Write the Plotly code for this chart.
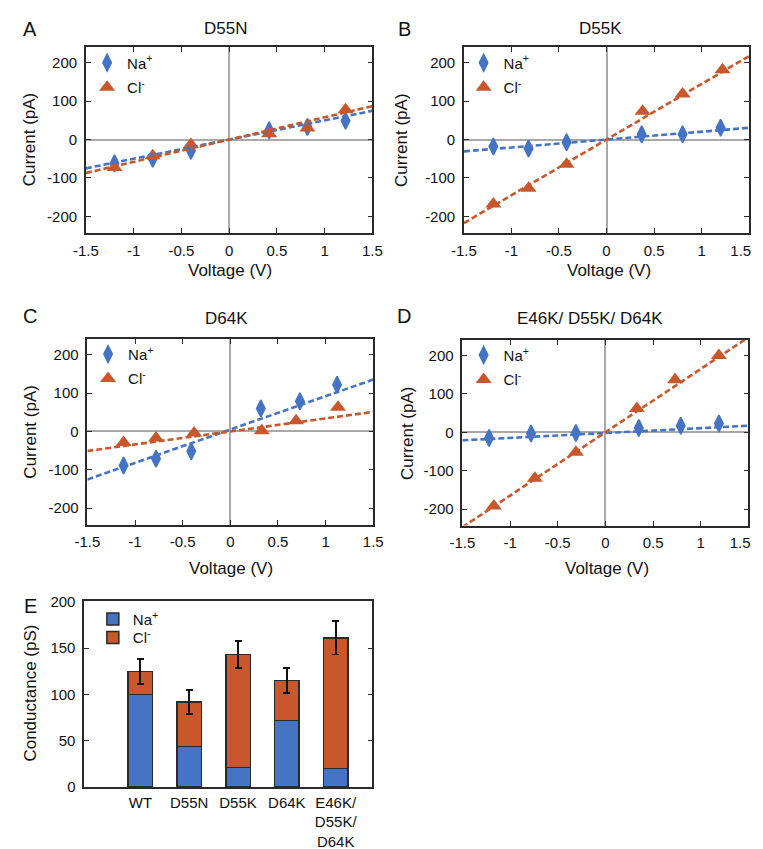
import plotly.graph_objects as go

# ---------------- data ----------------
panel_letters = ["A", "B", "C", "D"]
panel_titles = ["D55N", "D55K", "D64K", "E46K/ D55K/ D64K"]

na_voltage = [
    [-1.2, -0.8, -0.4, 0.42, 0.82, 1.22],
    [-1.19, -0.82, -0.42, 0.37, 0.80, 1.20],
    [-1.12, -0.78, -0.41, 0.32, 0.73, 1.12],
    [-1.22, -0.78, -0.31, 0.35, 0.79, 1.19],
]
na_current = [
    [-62, -50, -29, 24, 33, 49],
    [-18, -23, -7, 14, 14, 31],
    [-89, -71, -52, 60, 79, 122],
    [-15, -3, -2, 11, 17, 23],
]
cl_voltage = [
    [-1.2, -0.8, -0.4, 0.42, 0.82, 1.22],
    [-1.19, -0.82, -0.42, 0.38, 0.80, 1.22],
    [-1.12, -0.78, -0.38, 0.33, 0.69, 1.13],
    [-1.17, -0.74, -0.31, 0.33, 0.73, 1.19],
]
cl_current = [
    [-73, -42, -13, 15, 30, 78],
    [-168, -127, -64, 74, 119, 182],
    [-29, -17, -4, 2, 28, 63],
    [-192, -120, -52, 62, 137, 200],
]
# linear fits (slope pA/V, intercept pA)
na_fit_slope = [50, 20.5, 87, 12.7]
na_fit_intercept = [0, 0, 5, -2]
cl_fit_slope = [58, 145, 34, 165]
cl_fit_intercept = [0, 0, 0, 0]
fit_voltage_span = [-1.5, 1.5]

x_tick_vals = [-1.5, -1, -0.5, 0, 0.5, 1, 1.5]
x_tick_text_left = ["-1.5", "-1", "-0.5", "0", "0.5", "1", "1.5"]
x_tick_text_right = ["-1.5", "-1", "-0.5", "0", "0.5", "1", "1.5\u2007\u2007"]
y_tick_vals = [-200, -100, 0, 100, 200]
y_tick_text = ["-200", "-100", "0", "100", "200"]

bar_categories = ["WT", "D55N", "D55K", "D64K", "E46K/<br>D55K/<br>D64K"]
bar_na = [100, 44, 21, 72, 20]
bar_cl = [25, 48, 122, 43, 141]
bar_err = [13.5, 12.7, 14.5, 13.5, 18]

# ---------------- style ----------------
W, H = 763, 849
BLUE = "#4674C4"
ORANGE = "#C8582C"
FRAME = "#2a2a2a"
FONT = "Liberation Sans"


def px(x):
    return x / W


def py(y):
    return 1 - y / H


# plot areas in pixels: (left, right, top, bottom)
boxes = [
    (67.7, 366.7, 31.7, 221.0),
    (462.3, 760.0, 31.7, 221.0),
    (69.3, 367.7, 329.3, 518.3),
    (460.7, 759.3, 330.0, 519.3),
]
box_e = (66.0, 366.7, 596.0, 786.0)

letter_pos = [(9, 13), (400, 13), (9, 306), (400, 306)]
title_pos = [(213, 13), (605, 13), (214, 308), (594, 308)]
xtitle_pos = [(218, 259), (614, 259), (219, 563), (612, 563)]
ytitle_pos = [(9, 126), (397, 126), (9, 424), (404, 425)]
legend_pos = [(69, 31), (462, 31), (70, 328), (462, 329)]
tick_text_sets = [x_tick_text_left, x_tick_text_right, x_tick_text_left, x_tick_text_right]

fig = go.Figure()
annotations = []

for i in range(4):
    n = i + 1
    xa = "x" if n == 1 else f"x{n}"
    ya = "y" if n == 1 else f"y{n}"
    lg = "legend" if n == 1 else f"legend{n}"

    fig.add_trace(go.Scatter(
        x=na_voltage[i], y=na_current[i], mode="markers", name="Na<sup>+</sup>",
        marker=dict(symbol="diamond-tall", size=12, color=BLUE, line=dict(width=1.6, color=BLUE)),
        xaxis=xa, yaxis=ya, legend=lg, legendgroup=f"na{n}",
    ))
    fig.add_trace(go.Scatter(
        x=cl_voltage[i], y=cl_current[i], mode="markers", name="Cl<sup>-</sup>",
        marker=dict(symbol="triangle-up", size=14, color=ORANGE, line=dict(width=0)),
        xaxis=xa, yaxis=ya, legend=lg, legendgroup=f"cl{n}",
    ))
    fig.add_trace(go.Scatter(
        x=fit_voltage_span,
        y=[na_fit_slope[i] * v + na_fit_intercept[i] for v in fit_voltage_span],
        mode="lines", line=dict(color=BLUE, width=2.6, dash="6px,3px"),
        showlegend=False, xaxis=xa, yaxis=ya, hoverinfo="skip",
    ))
    fig.add_trace(go.Scatter(
        x=fit_voltage_span,
        y=[cl_fit_slope[i] * v + cl_fit_intercept[i] for v in fit_voltage_span],
        mode="lines", line=dict(color=ORANGE, width=2.6, dash="6px,3px"),
        showlegend=False, xaxis=xa, yaxis=ya, hoverinfo="skip",
    ))

    l, r, t, b = boxes[i]
    axis_common = dict(
        showline=True, mirror="ticks", linecolor=FRAME, linewidth=1.5,
        ticks="inside", ticklen=5, tickwidth=1.2, tickcolor=FRAME,
        showgrid=False, zeroline=True, zerolinecolor="#a8a8a8", zerolinewidth=1.5,
        tickfont=dict(family=FONT, size=15, color="#111"),
    )
    xkey = "xaxis" if n == 1 else f"xaxis{n}"
    ykey = "yaxis" if n == 1 else f"yaxis{n}"
    fig.update_layout({
        xkey: dict(axis_common, domain=[px(l), px(r)], range=[-1.5, 1.5],
                   tickvals=x_tick_vals, ticktext=tick_text_sets[i],
                   anchor=ya, ticklabelstandoff=3, ticklabeloverflow="allow"),
        ykey: dict(axis_common, domain=[py(b), py(t)], range=[-243, 241],
                   tickvals=y_tick_vals, ticktext=y_tick_text,
                   anchor=xa, ticklabelstandoff=4),
        lg: dict(x=px(legend_pos[i][0]), y=py(legend_pos[i][1]),
                 xanchor="left", yanchor="top", bgcolor="rgba(0,0,0,0)",
                 font=dict(family=FONT, size=15, color="#111"),
                 tracegroupgap=2, borderwidth=0),
    })

    annotations.append(dict(text=panel_letters[i], x=px(letter_pos[i][0]), y=py(letter_pos[i][1]),
                            font=dict(family=FONT, size=20, color="#111")))
    annotations.append(dict(text=panel_titles[i], x=px(title_pos[i][0]), y=py(title_pos[i][1]),
                            font=dict(family=FONT, size=17, color="#111")))
    annotations.append(dict(text="Voltage (V)", x=px(xtitle_pos[i][0]), y=py(xtitle_pos[i][1]),
                            font=dict(family=FONT, size=17, color="#111")))
    annotations.append(dict(text="Current (pA)", x=px(ytitle_pos[i][0]), y=py(ytitle_pos[i][1]),
                            textangle=-90, font=dict(family=FONT, size=17, color="#111")))

# ---------------- panel E: stacked bars ----------------
fig.add_trace(go.Bar(
    x=bar_categories, y=bar_na, name="Na<sup>+</sup>", width=0.5,
    marker=dict(color=BLUE, line=dict(color=FRAME, width=1.5)),
    xaxis="x5", yaxis="y5", legend="legend5",
))
fig.add_trace(go.Bar(
    x=bar_categories, y=bar_cl, name="Cl<sup>-</sup>", width=0.5,
    marker=dict(color=ORANGE, line=dict(color=FRAME, width=1.5)),
    error_y=dict(type="data", array=bar_err, color="#111", thickness=1.8, width=3.5),
    xaxis="x5", yaxis="y5", legend="legend6",
))

l, r, t, b = box_e
legend_e_common = dict(xanchor="left", yanchor="top", bgcolor="rgba(0,0,0,0)",
                       font=dict(family=FONT, size=15, color="#111"), borderwidth=0)
fig.update_layout(
    barmode="stack",
    xaxis5=dict(domain=[px(l), px(r)], range=[-1.15, 4.75], anchor="y5",
                showline=True, mirror=True, linecolor=FRAME, linewidth=1.5,
                ticks="", showgrid=False, zeroline=False,
                tickfont=dict(family=FONT, size=15, color="#111"), ticklabelstandoff=1),
    yaxis5=dict(domain=[py(b), py(t)], range=[0, 201], anchor="x5",
                tickvals=[0, 50, 100, 150, 200],
                showline=True, mirror="ticks", linecolor=FRAME, linewidth=1.5,
                ticks="inside", ticklen=5, tickwidth=1.2, tickcolor=FRAME,
                showgrid=False, zeroline=False,
                tickfont=dict(family=FONT, size=15, color="#111"), ticklabelstandoff=4),
    legend5=dict(legend_e_common, x=px(75), y=py(598)),
    legend6=dict(legend_e_common, x=px(75), y=py(617)),
)
annotations.append(dict(text="E", x=px(10), y=py(601), font=dict(family=FONT, size=20, color="#111")))
annotations.append(dict(text="Conductance (pS)", x=px(10), y=py(690), textangle=-90,
                        font=dict(family=FONT, size=17, color="#111")))

for a in annotations:
    a.update(xref="paper", yref="paper", showarrow=False, xanchor="center", yanchor="middle")

fig.update_layout(
    width=W, height=H, margin=dict(l=0, r=0, t=0, b=0),
    paper_bgcolor="white", plot_bgcolor="white",
    annotations=annotations, showlegend=True,
)

fig.write_html("out.html")
